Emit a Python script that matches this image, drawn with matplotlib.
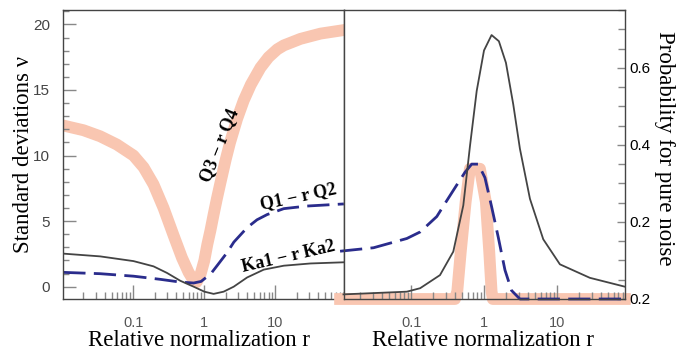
import matplotlib.pyplot as plt
from matplotlib.ticker import FixedLocator, LogLocator, NullFormatter, FixedFormatter, MultipleLocator

# Left panel: standard deviations vs relative normalization r
r_q34 = [0.0104, 0.020, 0.0343, 0.0589, 0.101, 0.14, 0.193, 0.267, 0.37, 0.485, 0.60,
         0.70, 0.78, 0.88, 1.0, 1.1, 1.22, 1.35, 1.5, 1.68, 2.0, 2.3, 2.89, 3.58, 4.5,
         6.15, 8.0, 10.6, 13.1, 22.5, 43.0, 91.6]
v_q34 = [12.29, 11.93, 11.47, 10.84, 10.0, 9.1, 7.8, 6.0, 3.9, 2.2, 1.1,
         0.5, 0.35, 0.9, 2.0, 3.2, 4.3, 5.5, 6.7, 7.9, 9.7, 11.0, 12.8, 14.2, 15.4,
         16.7, 17.5, 18.1, 18.4, 18.9, 19.3, 19.57]

r_q12 = [0.0104, 0.0343, 0.101, 0.24, 0.459, 0.707, 0.9, 1.03, 1.22, 1.51, 2.09, 2.6,
         3.99, 5.5, 7.64, 13.1, 27.9, 91.6]
v_q12 = [1.09, 0.99, 0.8, 0.56, 0.35, 0.28, 0.4, 0.65, 0.95, 1.6, 2.6, 3.4,
         4.5, 5.1, 5.5, 5.95, 6.15, 6.31]

r_ka = [0.0104, 0.0343, 0.101, 0.193, 0.298, 0.459, 0.707, 1.0, 1.35, 1.87, 2.59, 3.99,
        6.85, 13.1, 31.1, 91.6]
v_ka = [2.52, 2.31, 1.95, 1.55, 1.05, 0.45, 0.0, -0.38, -0.55, -0.38, 0.0, 0.7,
        1.3, 1.6, 1.77, 1.86]

# Right panel: probability for pure noise
r_p_ka = [0.0118, 0.0873, 0.133, 0.249, 0.379, 0.52, 0.643, 0.794, 1.0, 1.27, 1.6,
          2.0, 2.52, 3.11, 4.27, 6.5, 11.0, 28.3, 85.5]
p_ka = [0.012, 0.019, 0.028, 0.062, 0.123, 0.243, 0.398, 0.54, 0.645, 0.685, 0.669,
        0.613, 0.505, 0.39, 0.26, 0.155, 0.09, 0.055, 0.032]

r_p_q12 = [0.0106, 0.0305, 0.0873, 0.133, 0.225, 0.308, 0.42, 0.549, 0.678, 0.835, 1.03,
           1.27, 1.57, 1.94, 2.39, 3.11, 85.5]
p_q12 = [0.124, 0.133, 0.157, 0.174, 0.214, 0.255, 0.295, 0.329, 0.350, 0.350, 0.315,
         0.24, 0.16, 0.075, 0.022, 0.0, 0.0]

r_p_q34 = [0.0106, 0.40, 0.43, 0.48, 0.56, 0.64, 0.88, 1.06, 1.18, 1.27, 1.32, 85.5]
p_q34 = [0.0, 0.0, 0.02, 0.123, 0.252, 0.338, 0.338, 0.252, 0.123, 0.02, 0.0, 0.0]

x_ticks = [0.1, 1, 10]
x_tick_labels = ['0.1', '1', '10']
p_ticks = [0.0, 0.2, 0.4, 0.6]
p_tick_labels = ['0.2', '0.2', '0.4', '0.6']

orange = '#F9C6B1'
navy = '#2A2C8C'
dark = '#444444'
serif = 'Liberation Serif'
sans = 'Liberation Sans'

fig = plt.figure(figsize=(6.96, 3.52), dpi=100)
ax1 = fig.add_axes([63.3/696, 53/352, 280.7/696, 289/352])
ax2 = fig.add_axes([344/696, 53/352, 281/696, 289/352])

# curves
ax1.plot(r_q34, v_q34, color=orange, lw=8.5, solid_joinstyle='round', zorder=1)
ax1.plot(r_q12, v_q12, color=navy, lw=2, dashes=(8, 3), zorder=2)
ax1.plot(r_ka, v_ka, color=dark, lw=1.3, zorder=3)

ax2.plot(r_p_q34, p_q34, color=orange, lw=8.5, solid_joinstyle='round', clip_on=False, zorder=1)
ax2.plot(r_p_q12, p_q12, color=navy, lw=2, dashes=(8, 3), clip_on=False, zorder=2)
ax2.plot(r_p_ka, p_ka, color=dark, lw=1.3, clip_on=False, zorder=3)

for ax in (ax1, ax2):
    ax.set_xscale('log')
    ax.xaxis.set_major_locator(FixedLocator(x_ticks))
    ax.xaxis.set_major_formatter(FixedFormatter(x_tick_labels))
    ax.xaxis.set_minor_locator(LogLocator(base=10, subs=range(2, 10)))
    ax.xaxis.set_minor_formatter(NullFormatter())
    ax.tick_params(axis='x', which='major', direction='in', length=10, width=1,
                   color='#888888', pad=12, labelsize=10.5, labelcolor='#555555')
    ax.tick_params(axis='x', which='minor', direction='in', length=5, width=1, color='#888888')
    for lab in ax.get_xticklabels():
        lab.set_fontfamily(sans)
    for s in ax.spines.values():
        s.set_color(dark)
        s.set_linewidth(1.0)
    ax.set_xlabel('Relative normalization r', family=serif, fontsize=16.5, labelpad=0)

ax1.xaxis.label.set_x(0.483)
ax2.xaxis.label.set_x(0.493)
ax1.set_xlim(0.0104, 92)
ax2.set_xlim(0.012, 86)

ax1.set_ylim(-0.94, 21.1)
ax1.yaxis.set_major_locator(FixedLocator([0, 5, 10, 15, 20]))
ax1.yaxis.set_minor_locator(MultipleLocator(1))
ax1.tick_params(axis='y', which='major', direction='in', length=9, width=1, color='#888888',
                pad=9.5, labelsize=11, labelcolor='#444444')
ax1.tick_params(axis='y', which='minor', direction='in', length=4.5, width=1, color='#888888')
for lab in ax1.get_yticklabels():
    lab.set_fontfamily(sans)
ax1.set_ylabel('Standard deviations ν', family=serif, fontsize=16.5, labelpad=-1)

ax1.text(1.63, 10.8, 'Q3 − r Q4', rotation=68, ha='center', va='center',
         family=serif, weight='bold', fontsize=13)
ax1.text(21, 6.9, 'Q1 − r Q2', rotation=12, ha='center', va='center',
         family=serif, weight='bold', fontsize=13)
ax1.text(15, 2.3, 'Ka1 − r Ka2', rotation=13, ha='center', va='center',
         family=serif, weight='bold', fontsize=13)

ax2.set_ylim(0, 0.75)
ax2.yaxis.tick_right()
ax2.yaxis.set_label_position('right')
ax2.yaxis.set_major_locator(FixedLocator(p_ticks))
ax2.yaxis.set_major_formatter(FixedFormatter(p_tick_labels))
ax2.yaxis.set_minor_locator(MultipleLocator(0.05))
ax2.tick_params(axis='y', which='major', direction='in', length=6, width=1, color='#888888',
                pad=3, labelsize=11, labelcolor='black')
ax2.tick_params(axis='y', which='minor', direction='in', length=5, width=1, color='#888888')
for lab in ax2.get_yticklabels():
    lab.set_fontfamily(sans)
ax2.set_ylabel('Probability for pure noise', family=serif, fontsize=16.5, rotation=-90,
               labelpad=18)
ax2.yaxis.label.set_y(0.522)

fig.savefig('out.png', dpi=100)
